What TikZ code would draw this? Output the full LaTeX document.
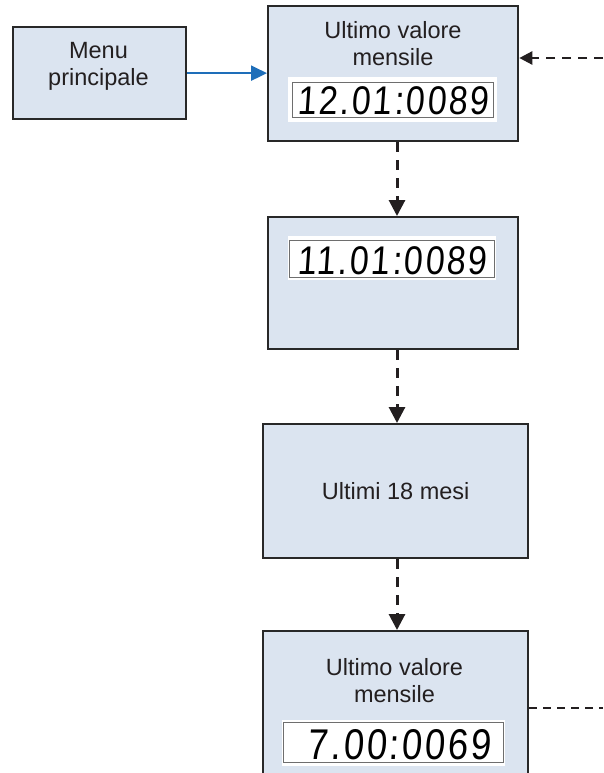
\documentclass[tikz,border=0pt]{standalone}
\usepackage{fontspec}
\setmainfont{Liberation Sans}
\newfontfamily\lcdfont[FakeSlant=0.07,FakeStretch=0.85,LetterSpace=6]{Liberation Sans}
\newcommand\lcdA{\lcdfont\fontsize{40}{40}\selectfont}
\newcommand\lcdB{\lcdfont\fontsize{43}{43}\selectfont}
\usetikzlibrary{arrows.meta,calc}
\definecolor{boxfill}{RGB}{219,228,240}
\definecolor{boxline}{RGB}{40,40,40}
\definecolor{txt}{RGB}{35,31,32}
\definecolor{arrblue}{RGB}{30,110,185}
\definecolor{lcdgray}{RGB}{110,110,110}
\begin{document}
\begin{tikzpicture}[x=1pt,y=-1pt,
  panel/.style={rectangle,draw=boxline,line width=2.3pt,fill=boxfill,inner sep=0pt,anchor=north west},
  lbl/.style={font=\fontsize{23.5}{27}\selectfont,text=txt,align=center,inner sep=0pt,anchor=north},
  lcdtext/.style={inner sep=0pt,anchor=base east,text=black},
  lcdinner/.style={draw=lcdgray,line width=0.9pt},
  blueline/.style={draw=arrblue,line width=2.2pt,-{Triangle[length=16pt,width=15pt]}},
  dasharrow/.style={draw=txt,line width=3pt,dash pattern=on 10pt off 8pt,-{Triangle[length=16pt,width=16pt]}},
  rdasharrow/.style={draw=txt,line width=2.5pt,dash pattern=on 9pt off 7pt,-{Triangle[length=13pt,width=13pt]}},
  rdashline/.style={draw=txt,line width=1.8pt,dash pattern=on 8pt off 6pt}]
\useasboundingbox (0,0) rectangle (603,773);
\clip (0,0) rectangle (603,773);
\fill[white] (0,0) rectangle (603,773);

% Menu
\node[panel,minimum width=173pt,minimum height=92pt] (menu) at (12,26) {};
\node[lbl] (menulbl) at (98.5,42.5) {Menu\\principale};

% Box 1
\node[panel,minimum width=250pt,minimum height=135pt] (box1) at (267,5) {};
\node[lbl] (lbl1) at (393,21.5) {Ultimo valore\\mensile};
\fill[white] (288,77) rectangle (497,122);
\draw[lcdinner] (292,82) rectangle (493,117);
\node[lcdtext,font=\lcdA] (lcd1) at (489,114) {12.01:0089};

% Box 2
\node[panel,minimum width=250pt,minimum height=132pt] (box2) at (267,216) {};
\fill[white] (288,236) rectangle (496,280);
\draw[lcdinner] (289,240) rectangle (494,277);
\node[lcdtext,font=\lcdA] (lcd2) at (487,274) {11.01:0089};

% Box 3
\node[panel,minimum width=265pt,minimum height=134pt,font=\fontsize{23.5}{27}\selectfont,text=txt] (box3) at (262,423) {Ultimi 18 mesi};

% Box 4
\node[panel,minimum width=265pt,minimum height=200pt] (box4) at (262,630) {};
\node[lbl] (lbl4) at (394.5,658) {Ultimo valore\\mensile};
\fill[white] (282,720) rectangle (505,766);
\draw[lcdinner] (283,722) rectangle (503,762);
\node[lcdtext,font=\lcdB] (lcd4) at (491,759) {7.00:0069};

% Connectors
\coordinate (ax) at (397,0);
\draw[blueline] (menu.east) -- (menu.east -| box1.west);
\draw[dasharrow] (box1.south -| ax) -- (box2.north -| ax);
\draw[dasharrow] (box2.south -| ax) -- (box3.north -| ax);
\draw[dasharrow] (box3.south -| ax) -- (box4.north -| ax);
\coordinate (rin) at (603,58);
\draw[rdasharrow] (rin) -- (rin -| box1.east);
\coordinate (rout) at (603,708);
\draw[rdashline] (box4.east |- rout) -- (rout);
\end{tikzpicture}
\end{document}
